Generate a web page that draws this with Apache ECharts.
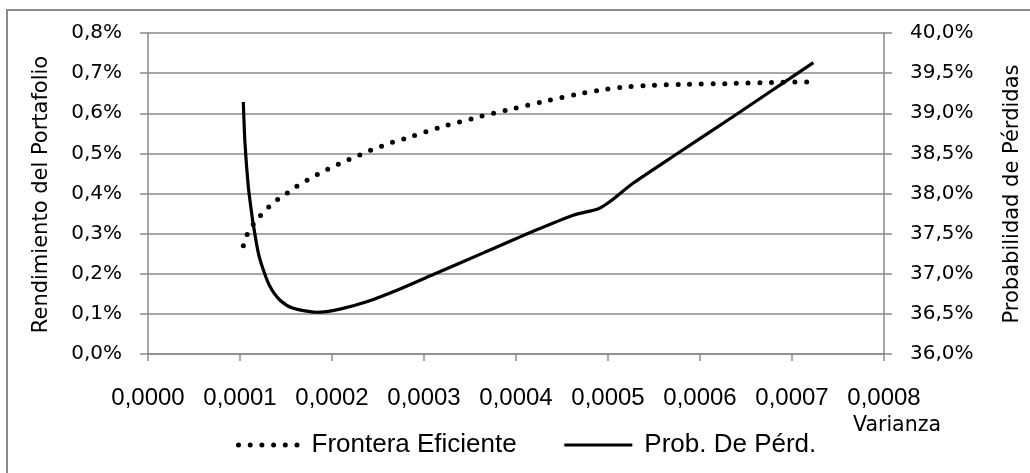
<!DOCTYPE html>
<html>
<head>
<meta charset="utf-8">
<script src="https://cdn.jsdelivr.net/npm/echarts@6/dist/echarts.min.js"></script>
<style>
  html, body { margin: 0; padding: 0; background: #fff; }
  #chart { width: 1030px; height: 473px; }
</style>
</head>
<body>
<div id="chart"></div>
<script>
// Efficient frontier: portfolio variance vs. expected return (%)
const varianzaFrontera = [
  0.0001036, 0.0001079, 0.0001145, 0.0001225, 0.0001315, 0.0001413, 0.0001518,
  0.0001623, 0.0001736, 0.0001848, 0.0001960, 0.0002079, 0.0002196, 0.0002312,
  0.0002432, 0.0002551, 0.0002671, 0.0002793, 0.0003163, 0.0003529, 0.0003902,
  0.0004279, 0.0004655, 0.0004905, 0.0005160, 0.0005421, 0.0005801, 0.0006308,
  0.0006834, 0.0007214
];
const rendimiento = [
  0.270, 0.2985, 0.323, 0.346, 0.367, 0.386, 0.402,
  0.419, 0.434, 0.448, 0.461, 0.474, 0.486, 0.497,
  0.509, 0.519, 0.529, 0.537, 0.564, 0.587, 0.608,
  0.628, 0.647, 0.657, 0.665, 0.669, 0.672, 0.674,
  0.677, 0.678
];

// Probability of loss (%) along the same variance range
const varianzaProb = [
  0.0001036, 0.0001054, 0.0001090, 0.0001127, 0.0001145, 0.0001199, 0.0001253,
  0.0001326, 0.0001435, 0.0001579, 0.0001834, 0.0002087, 0.0002377, 0.0002739,
  0.0003101, 0.0003645, 0.0004188, 0.0004623, 0.0004895, 0.0005022, 0.0005275,
  0.0005783, 0.0006362, 0.0006725, 0.0007232
];
const probPerdida = [
  39.14, 38.63, 38.09, 37.75, 37.61, 37.26, 37.05,
  36.84, 36.67, 36.57, 36.52, 36.56, 36.65, 36.81,
  36.99, 37.26, 37.53, 37.73, 37.81, 37.90, 38.13,
  38.52, 38.96, 39.24, 39.63
];

const seriesNames = ['Frontera Eficiente', 'Prob. De Pérd.'];
const ejeIzq = 'Rendimiento del Portafolio';
const ejeDer = 'Probabilidad de Pérdidas';
const ejeX = 'Varianza';

const grayLine = '#8a8a8a';
const labelFont = 'DejaVu Sans';
const dotted = { color: '#000', width: 5, type: [0, 11.7], cap: 'round' };
const solid = { color: '#000', width: 3.2, type: 'solid' };

function pairs(xs, ys) { return xs.map((x, i) => [x, ys[i]]); }
function comma(s) { return s.replace('.', ','); }

const chart = echarts.init(document.getElementById('chart'), null, { renderer: 'canvas' });

const legendText = {
  fontFamily: 'Liberation Sans', fontSize: 26, color: '#000', lineHeight: 30
};

chart.setOption({
  animation: false,
  backgroundColor: '#ffffff',
  grid: { left: 148, right: 146, top: 33, bottom: 119, containLabel: false },
  xAxis: {
    type: 'value',
    min: 0, max: 0.0008, interval: 0.0001,
    axisLine: { show: true, lineStyle: { color: grayLine, width: 1.5 } },
    axisTick: { show: true, inside: false, length: 7, lineStyle: { color: grayLine, width: 1.5 } },
    splitLine: { show: false },
    axisLabel: {
      margin: 32,
      fontFamily: 'Liberation Sans', fontSize: 24, color: '#000',
      formatter: v => comma(v.toFixed(4))
    }
  },
  yAxis: [
    {
      type: 'value',
      min: 0, max: 0.8, interval: 0.1,
      axisLine: { show: true, lineStyle: { color: grayLine, width: 1.5 } },
      axisTick: { show: true, inside: false, length: 8, lineStyle: { color: grayLine, width: 1.5 } },
      splitLine: { show: true, lineStyle: { color: grayLine, width: 1.5 } },
      axisLabel: {
        margin: 26, fontFamily: labelFont, fontSize: 20, color: '#000',
        formatter: v => comma(v.toFixed(1)) + '%'
      }
    },
    {
      type: 'value',
      position: 'right',
      min: 36, max: 40, interval: 0.5,
      axisLine: { show: true, lineStyle: { color: grayLine, width: 1.5 } },
      axisTick: { show: true, inside: false, length: 8, lineStyle: { color: grayLine, width: 1.5 } },
      splitLine: { show: false },
      axisLabel: {
        margin: 26, fontFamily: labelFont, fontSize: 20, color: '#000',
        formatter: v => comma(v.toFixed(1)) + '%'
      }
    }
  ],
  legend: {
    left: 231, top: 425,
    itemWidth: 68, itemHeight: 14, itemGap: 46,
    data: [
      { name: seriesNames[0], lineStyle: dotted,
        textStyle: Object.assign({ padding: [0, 0, 0, 0] }, legendText) },
      { name: seriesNames[1], lineStyle: solid,
        textStyle: Object.assign({ padding: [0, 0, 0, 7] }, legendText) }
    ],
    itemStyle: { opacity: 0 },
    textStyle: legendText
  },
  series: [
    {
      name: seriesNames[0],
      type: 'line',
      yAxisIndex: 0,
      data: pairs(varianzaFrontera, rendimiento),
      smooth: 0.25,
      showSymbol: false, symbol: 'none',
      lineStyle: dotted,
      itemStyle: { color: '#000' }
    },
    {
      name: seriesNames[1],
      type: 'line',
      yAxisIndex: 1,
      data: pairs(varianzaProb, probPerdida),
      smooth: 0.25,
      showSymbol: false, symbol: 'none',
      lineStyle: solid,
      itemStyle: { color: '#000' }
    }
  ],
  graphic: [
    {
      type: 'rect', silent: true, z: -1,
      shape: { x: 7, y: 10, width: 1100, height: 1000 },
      style: { fill: 'none', stroke: grayLine, lineWidth: 2 }
    },
    {
      type: 'text', silent: true,
      x: 41.5, y: 194.5, rotation: Math.PI / 2,
      style: {
        text: ejeIzq, fontFamily: labelFont, fontSize: 21, fill: '#000',
        align: 'center', verticalAlign: 'middle'
      }
    },
    {
      type: 'text', silent: true,
      x: 1013, y: 194, rotation: Math.PI / 2,
      style: {
        text: ejeDer, fontFamily: labelFont, fontSize: 21, fill: '#000',
        align: 'center', verticalAlign: 'middle'
      }
    },
    {
      type: 'text', silent: true,
      x: 897, y: 426,
      style: {
        text: ejeX, fontFamily: labelFont, fontSize: 20.5, fill: '#000',
        align: 'center', verticalAlign: 'middle'
      }
    }
  ]
});
</script>
</body>
</html>
